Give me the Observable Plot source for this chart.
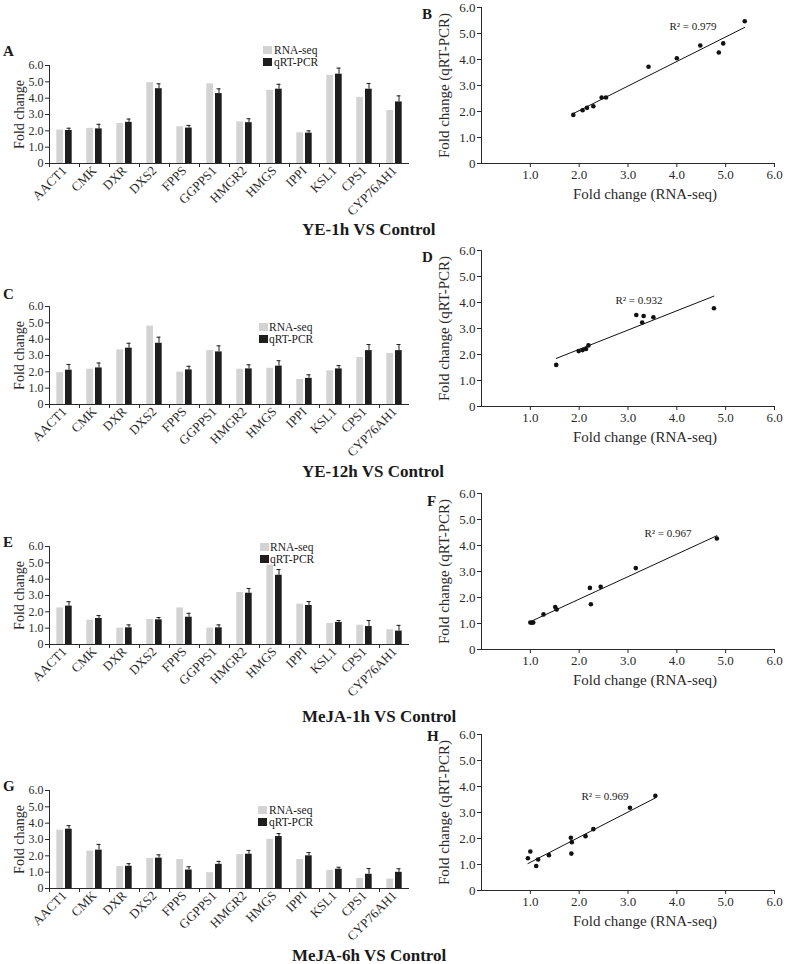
<!DOCTYPE html>
<html>
<head>
<meta charset="utf-8">
<script src="https://cdn.jsdelivr.net/npm/d3@7"></script>
<script src="https://cdn.jsdelivr.net/npm/@observablehq/plot@0.6"></script>
<style>
  html, body { margin: 0; padding: 0; background: #fff; }
  #fig { position: relative; width: 787px; height: 964px; overflow: hidden; font-family: "Liberation Serif", "DejaVu Serif", serif; color: #1a1a1a; }
  #fig svg { position: absolute; background: transparent; overflow: visible; }
  .ann { position: absolute; white-space: nowrap; line-height: 1; }
  .title { font-weight: bold; font-size: 17px; }
  .letter { font-weight: bold; font-size: 15px; }
  .r2 { font-size: 11px; transform: translate(-50%, -50%); }
  .leg { font-size: 11.5px; }
  .sw { position: absolute; width: 9px; height: 8px; }
</style>
</head>
<body>
<div id="fig"></div>
<script>
// ---------- data ----------
const genes = ["AACT1","CMK","DXR","DXS2","FPPS","GGPPS1","HMGR2","HMGS","IPPI","KSL1","CPS1","CYP76AH1"];
const yTicks = [0, 1, 2, 3, 4, 5, 6];
const xTicksScatter = [1, 2, 3, 4, 5, 6];
const seriesNames = ["RNA-seq", "qRT-PCR"];
const panelTitles = ["YE-1h VS Control", "YE-12h VS Control", "MeJA-1h VS Control", "MeJA-6h VS Control"];
const r2Values = ["0.979", "0.932", "0.967", "0.969"];

// bar charts (A, C, E, G)
const rnaA  = [2.05, 2.15, 2.45, 4.95, 2.25, 4.88, 2.55, 4.48, 1.88, 5.40, 4.05, 3.25];
const qpcrA = [2.02, 2.12, 2.52, 4.58, 2.17, 4.28, 2.50, 4.55, 1.86, 5.47, 4.55, 3.77];
const errA  = [0.14, 0.28, 0.20, 0.30, 0.16, 0.29, 0.24, 0.30, 0.14, 0.37, 0.35, 0.37];

const rnaC  = [1.95, 2.16, 3.35, 4.80, 1.98, 3.30, 2.16, 2.22, 1.53, 2.06, 2.88, 3.12];
const qpcrC = [2.10, 2.24, 3.45, 3.75, 2.12, 3.22, 2.18, 2.35, 1.60, 2.18, 3.30, 3.30];
const errC  = [0.35, 0.30, 0.30, 0.37, 0.22, 0.37, 0.25, 0.33, 0.22, 0.20, 0.37, 0.37];

const rnaE  = [2.24, 1.49, 1.00, 1.53, 2.24, 1.00, 3.18, 4.86, 2.47, 1.29, 1.18, 0.90];
const qpcrE = [2.35, 1.59, 1.02, 1.51, 1.67, 1.02, 3.14, 4.24, 2.39, 1.35, 1.10, 0.82];
const errE  = [0.27, 0.18, 0.18, 0.14, 0.24, 0.18, 0.29, 0.35, 0.24, 0.12, 0.37, 0.35];

const rnaG  = [3.57, 2.29, 1.34, 1.84, 1.77, 0.97, 2.08, 3.01, 1.77, 1.11, 0.62, 0.58];
const qpcrG = [3.63, 2.35, 1.36, 1.86, 1.13, 1.48, 2.10, 3.18, 2.00, 1.18, 0.87, 0.99];
const errG  = [0.22, 0.35, 0.16, 0.20, 0.20, 0.18, 0.23, 0.18, 0.20, 0.12, 0.35, 0.22];

// scatter plots (B, D, F, H): RNA-seq vs qRT-PCR
const scRnaB = [1.88, 2.07, 2.16, 2.29, 2.46, 2.55, 3.42, 4.00, 4.48, 4.86, 4.95, 5.39];
const scQB   = [1.87, 2.05, 2.14, 2.20, 2.54, 2.54, 3.72, 4.05, 4.54, 4.27, 4.62, 5.47];
const scRnaD = [1.53, 1.99, 2.07, 2.14, 2.19, 3.17, 3.32, 3.29, 3.52, 4.76];
const scQD   = [1.60, 2.13, 2.17, 2.21, 2.35, 3.52, 3.48, 3.23, 3.43, 3.78];
const scRnaF = [1.00, 1.03, 1.06, 1.27, 1.51, 1.54, 2.22, 2.24, 2.44, 3.16, 4.82];
const scQF   = [1.04, 1.03, 1.04, 1.35, 1.63, 1.54, 2.37, 1.74, 2.41, 3.13, 4.27];
const scRnaH = [0.95, 1.00, 1.12, 1.16, 1.38, 1.83, 1.84, 1.85, 2.13, 2.29, 3.04, 3.56];
const scQH   = [1.24, 1.50, 0.94, 1.19, 1.36, 2.03, 1.42, 1.86, 2.09, 2.36, 3.18, 3.64];

// ---------- layout ----------
const fig = document.getElementById("fig");
const fmt = d => d === 0 ? "0" : d.toFixed(1);
const GRAY = "#d3d3d3", DARK = "#1e1e1e", AXIS = "#2a2a2a";

function place(el, left, top) {
  el.style.left = left + "px";
  el.style.top = top + "px";
  fig.appendChild(el);
}

function barChart(rna, qpcr, err, left, top) {
  const data = genes.map((g, i) => ({gene: g, rna: rna[i], q: qpcr[i], err: err[i]}));
  const mt = 40, mb = 80, ml = 49, mr = 21;
  const svg = Plot.plot({
    width: ml + 360 + mr, height: mt + 98 + mb,
    marginTop: mt, marginBottom: mb, marginLeft: ml, marginRight: mr,
    style: {fontFamily: "Liberation Serif", fontSize: "12px", color: AXIS, background: "transparent", overflow: "visible"},
    x: {type: "band", domain: genes, paddingInner: 0, paddingOuter: 0, label: null},
    y: {domain: [0, 6], label: null},
    marks: [
      Plot.barY(data, {x: "gene", y: "rna", fill: GRAY, insetLeft: 7.3, insetRight: 16}),
      Plot.barY(data, {x: "gene", y: "q", fill: DARK, insetLeft: 16, insetRight: 7.3}),
      Plot.ruleX(data, {x: "gene", y1: "q", y2: d => d.q + d.err, dx: 4.5, stroke: DARK, strokeWidth: 1}),
      Plot.tickY(data, {x: "gene", y: d => d.q + d.err, insetLeft: 17.5, insetRight: 8.5, stroke: DARK, strokeWidth: 1}),
      Plot.ruleY([0], {stroke: AXIS}),
      Plot.frame({anchor: "left", stroke: AXIS}),
      Plot.axisY({ticks: yTicks, tickFormat: fmt, tickSize: 4, tickPadding: 2, fontSize: 12, label: null}),
      Plot.axisX({tickSize: 0, tickRotate: -45, tickPadding: 5, fontSize: 13, label: null}),
      Plot.axisX({tickSize: 4, dx: -15, tickFormat: () => "", label: null}),
      Plot.text(["Fold change"], {frameAnchor: "left", textAnchor: "middle", lineAnchor: "middle", rotate: -90, dx: -30, fontSize: 14, fill: AXIS})
    ]
  });
  place(svg, left - ml, top - mt);
}

function scatter(rnaVals, qVals, left, top) {
  const pts = rnaVals.map((x, i) => ({x, y: qVals[i]}));
  const mt = 8, mb = 45, ml = 60, mr = 20;
  const svg = Plot.plot({
    width: ml + 293 + mr, height: mt + 156 + mb,
    marginTop: mt, marginBottom: mb, marginLeft: ml, marginRight: mr,
    style: {fontFamily: "Liberation Serif", fontSize: "13px", color: AXIS, background: "transparent", overflow: "visible"},
    x: {domain: [0, 6], label: null},
    y: {domain: [0, 6], label: null},
    marks: [
      Plot.frame({anchor: "left", stroke: AXIS}),
      Plot.frame({anchor: "bottom", stroke: AXIS}),
      Plot.axisY({ticks: yTicks, tickFormat: fmt, tickSize: 4, tickPadding: 2, fontSize: 13, label: null}),
      Plot.axisX({ticks: xTicksScatter, tickFormat: fmt, tickSize: 4, tickPadding: 2, fontSize: 13, label: null}),
      Plot.linearRegressionY(pts, {x: "x", y: "y", ci: 0, stroke: "#111", strokeWidth: 1}),
      Plot.dot(pts, {x: "x", y: "y", r: 2.3, fill: "#111", stroke: null}),
      Plot.text(["Fold change (RNA-seq)"], {frameAnchor: "bottom", textAnchor: "middle", lineAnchor: "middle", dy: 31, dx: 17, fontSize: 15, fill: AXIS}),
      Plot.text(["Fold change (qRT-PCR)"], {frameAnchor: "left", textAnchor: "middle", lineAnchor: "middle", rotate: -90, dx: -37, fontSize: 15, fill: AXIS})
    ]
  });
  place(svg, left - ml, top - mt);
}

barChart(rnaA, qpcrA, errA, 49, 64.5);
barChart(rnaC, qpcrC, errC, 49, 306);
barChart(rnaE, qpcrE, errE, 49, 546);
barChart(rnaG, qpcrG, errG, 49, 790);

scatter(scRnaB, scQB, 481, 7);
scatter(scRnaD, scQD, 481, 249.5);
scatter(scRnaF, scQF, 481, 493);
scatter(scRnaH, scQH, 481, 734);

// ---------- annotations ----------
function text(cls, str, left, baseline, fs) {
  const d = document.createElement("div");
  d.className = "ann " + cls;
  d.textContent = str;
  place(d, left, baseline - 0.84 * fs);
  return d;
}
const titlePos = [[302, 235], [302, 477], [302, 722], [292, 961]];
panelTitles.forEach((t, i) => text("title", t, titlePos[i][0], titlePos[i][1], 17));

const letters = [["A", 3, 57], ["B", 422, 20], ["C", 3, 300], ["D", 422, 263],
                 ["E", 3, 548], ["F", 427, 507], ["G", 3, 792], ["H", 427, 742]];
letters.forEach(([l, x, y]) => text("letter", l, x, y, 15));

const r2Pos = [[693, 26], [639, 300], [668, 533], [605, 796]];
r2Values.forEach((v, i) => {
  const d = document.createElement("div");
  d.className = "ann r2";
  d.textContent = "R\u00B2 = " + v;
  place(d, r2Pos[i][0], r2Pos[i][1]);
});

const legendPos = [[263, 46, 274], [259, 323, 269], [260, 543, 270], [258, 806, 269]];
legendPos.forEach(([sx, sy, tx]) => {
  seriesNames.forEach((name, j) => {
    const sw = document.createElement("div");
    sw.className = "sw";
    sw.style.background = j === 0 ? GRAY : DARK;
    place(sw, sx, sy + j * 12);
    text("leg", name, tx, sy + j * 12 + 8.5, 11.5);
  });
});
</script>
</body>
</html>
